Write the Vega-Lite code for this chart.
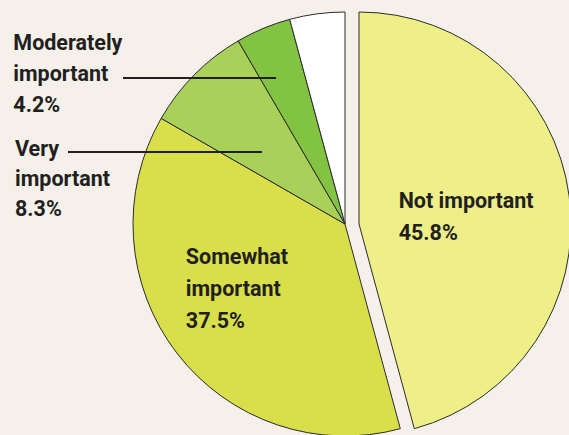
{
  "$schema": "https://vega.github.io/schema/vega-lite/v6.json",
  "width": 569,
  "height": 435,
  "autosize": {"type": "none"},
  "padding": 0,
  "background": "#F5F1EA",
  "config": {"view": {"stroke": null}},
  "datasets": {
    "pie": [
      {"category": "Not important", "percent": 45.8, "rank": 1, "label": "Not important\n45.8%"},
      {"category": "Somewhat important", "percent": 37.5, "rank": 2, "label": "Somewhat\nimportant\n37.5%"},
      {"category": "Very important", "percent": 8.3, "rank": 3, "label": "Very\nimportant\n8.3%"},
      {"category": "Moderately important", "percent": 4.2, "rank": 4, "label": "Moderately\nimportant\n4.2%"},
      {"category": "Extremely important", "percent": 4.2, "rank": 5, "label": ""}
    ],
    "leaders": [
      {"category": "Moderately important", "x": 123, "x2": 276, "y": 78},
      {"category": "Very important", "x": 68, "x2": 262, "y": 152}
    ]
  },
  "layer": [
    {
      "data": {"name": "pie"},
      "mark": {"type": "arc", "outerRadius": 212, "xOffset": 60.5, "yOffset": 6.5, "stroke": "#2b2b2b", "strokeWidth": 1},
      "encoding": {
        "theta": {"field": "percent", "type": "quantitative", "stack": true},
        "order": {"field": "rank", "type": "quantitative"},
        "color": {"field": "category", "type": "nominal", "legend": null,
          "scale": {"domain": ["Not important", "Somewhat important", "Very important", "Moderately important", "Extremely important"],
                    "range": ["#EEEF88", "#D8DF4A", "#A9D15A", "#82C342", "#FFFFFF"]}},
        "opacity": {"condition": {"test": "datum.category === 'Not important'", "value": 0}, "value": 1}
      }
    },
    {
      "data": {"name": "pie"},
      "mark": {"type": "arc", "outerRadius": 212, "xOffset": 74.5, "yOffset": 6.5, "stroke": "#2b2b2b", "strokeWidth": 1},
      "encoding": {
        "theta": {"field": "percent", "type": "quantitative", "stack": true},
        "order": {"field": "rank", "type": "quantitative"},
        "color": {"field": "category", "type": "nominal", "legend": null},
        "opacity": {"condition": {"test": "datum.category === 'Not important'", "value": 1}, "value": 0}
      }
    },
    {
      "data": {"name": "leaders"},
      "mark": {"type": "rule", "stroke": "#231F20", "strokeWidth": 2},
      "encoding": {
        "x": {"field": "x", "type": "quantitative", "scale": {"domain": [0, 569], "nice": false, "zero": false}, "axis": null},
        "x2": {"field": "x2"},
        "y": {"field": "y", "type": "quantitative", "scale": {"domain": [0, 435], "reverse": true, "nice": false, "zero": false}, "axis": null}
      }
    },
    {
      "data": {"name": "pie"},
      "mark": {"type": "text", "radius": 41, "xOffset": 74.5, "yOffset": 6.5, "dx": -1, "dy": -11, "align": "left", "baseline": "alphabetic", "lineBreak": "\n", "lineHeight": 32, "font": "Roboto", "fontSize": 21.5, "fontWeight": "bold", "color": "#231F20"},
      "encoding": {
        "theta": {"field": "percent", "type": "quantitative", "stack": true},
        "order": {"field": "rank", "type": "quantitative"},
        "text": {"condition": {"test": "datum.category === 'Not important'", "field": "label"}, "value": ""}
      }
    },
    {
      "data": {"name": "pie"},
      "mark": {"type": "text", "radius": 100, "xOffset": 60.5, "yOffset": 6.5, "dx": -80, "dy": -21, "align": "left", "baseline": "alphabetic", "lineBreak": "\n", "lineHeight": 32, "font": "Roboto", "fontSize": 21.5, "fontWeight": "bold", "color": "#231F20"},
      "encoding": {
        "theta": {"field": "percent", "type": "quantitative", "stack": true},
        "order": {"field": "rank", "type": "quantitative"},
        "text": {"condition": {"test": "datum.category === 'Somewhat important'", "field": "label"}, "value": ""}
      }
    },
    {
      "data": {"name": "pie"},
      "mark": {"type": "text", "radius": 117, "xOffset": 60.5, "yOffset": 6.5, "dx": -247, "dy": 14, "align": "left", "baseline": "alphabetic", "lineBreak": "\n", "lineHeight": 30, "font": "Roboto", "fontSize": 21.5, "fontWeight": "bold", "color": "#231F20"},
      "encoding": {
        "theta": {"field": "percent", "type": "quantitative", "stack": true},
        "order": {"field": "rank", "type": "quantitative"},
        "text": {"condition": {"test": "datum.category === 'Very important'", "field": "label"}, "value": ""}
      }
    },
    {
      "data": {"name": "pie"},
      "mark": {"type": "text", "radius": 160, "xOffset": 60.5, "yOffset": 6.5, "dx": -270, "dy": -26, "align": "left", "baseline": "alphabetic", "lineBreak": "\n", "lineHeight": 31, "font": "Roboto", "fontSize": 21.5, "fontWeight": "bold", "color": "#231F20"},
      "encoding": {
        "theta": {"field": "percent", "type": "quantitative", "stack": true},
        "order": {"field": "rank", "type": "quantitative"},
        "text": {"condition": {"test": "datum.category === 'Moderately important'", "field": "label"}, "value": ""}
      }
    }
  ]
}
